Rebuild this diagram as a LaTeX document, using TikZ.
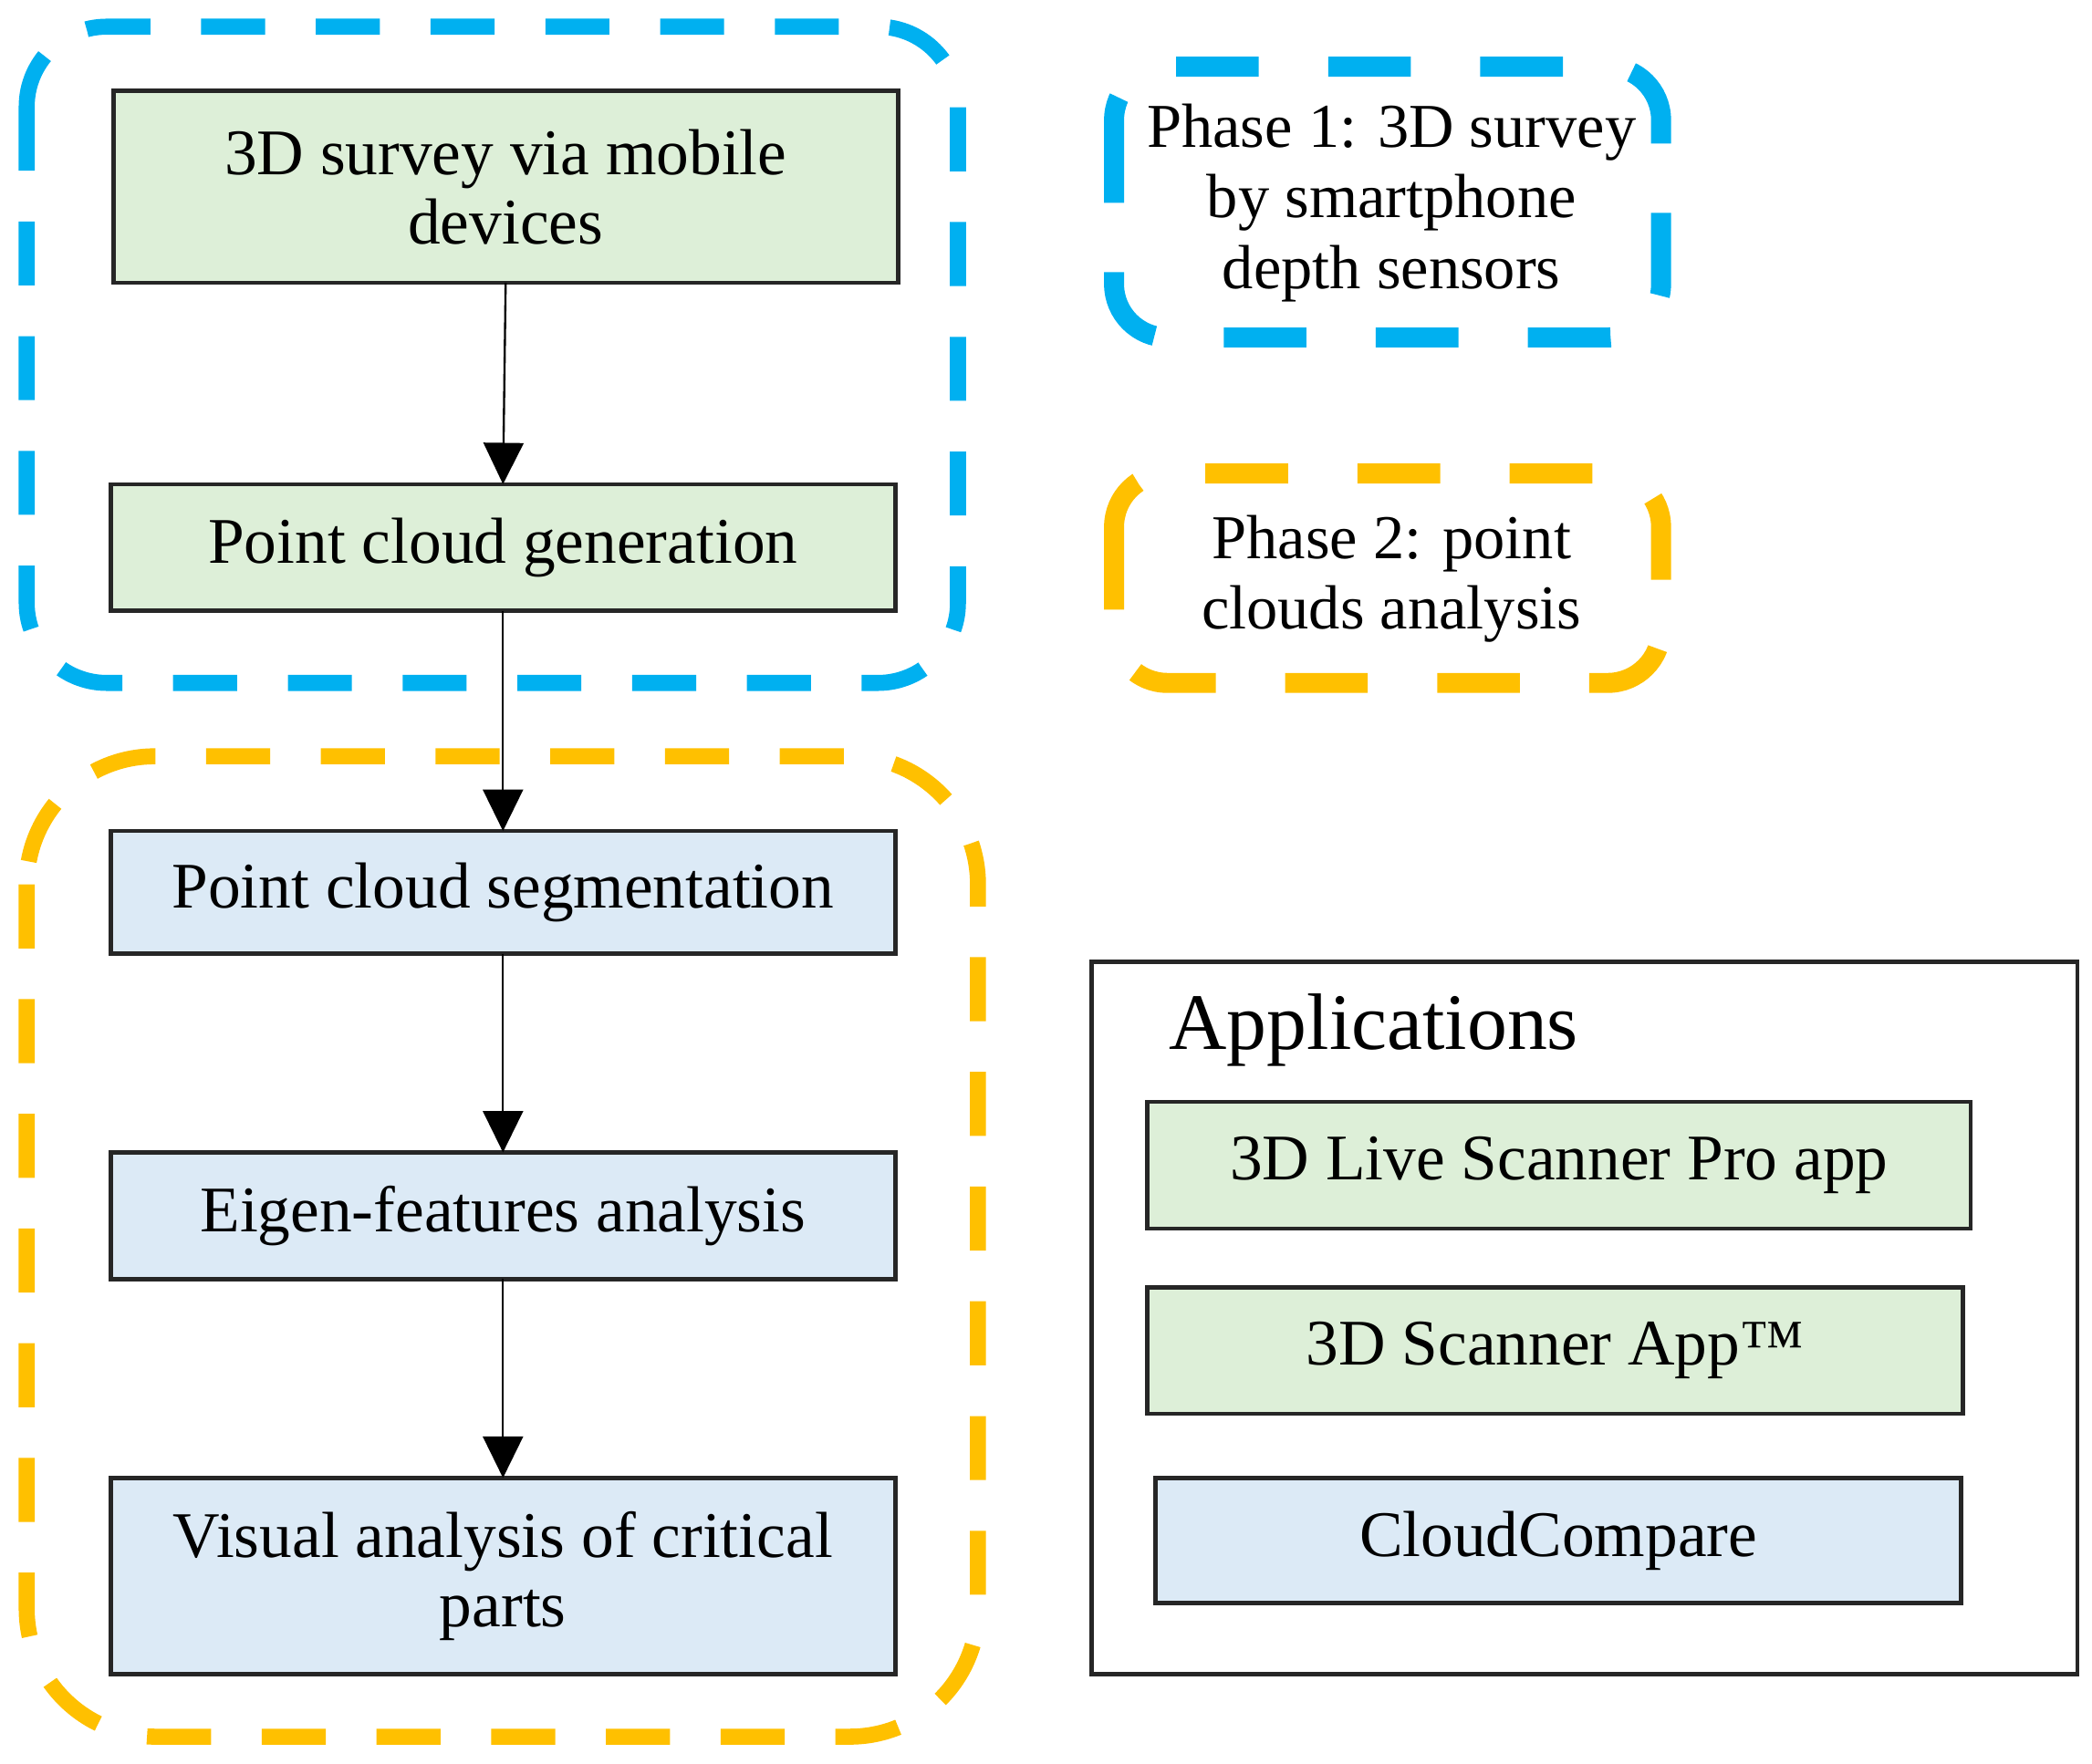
\documentclass[tikz,border=0pt]{standalone}
\usepackage{fontspec}
\setmainfont{Liberation Serif}
\usetikzlibrary{arrows.meta}
\definecolor{grpblue}{HTML}{00B0F0}
\definecolor{grpyellow}{HTML}{FFC000}
\definecolor{fillgreen}{HTML}{DDEFD8}
\definecolor{fillblue}{HTML}{DCEAF6}
\definecolor{edgegray}{HTML}{262626}
\tikzset{
  stepbox/.style={draw=edgegray, line width=1.6pt, inner sep=0pt, outer sep=0pt,
    align=center, font=\fontsize{24.4}{26}\selectfont, text=black},
  greenbox/.style={stepbox, fill=fillgreen},
  bluebox/.style={stepbox, fill=fillblue},
  flow/.style={draw=black, line width=0.8pt, -{Triangle[length=15.5pt,width=15pt]}},
  groupbox/.style={line width=6pt, dash pattern=on 24pt off 19pt},
  phasebox/.style={line width=7.5pt, dash pattern=on 31pt off 26pt},
  phasetext/.style={align=center, font=\fontsize{23.4}{26.5}\selectfont, inner sep=0pt},
}
\begin{document}
\begin{tikzpicture}[x=0.5pt,y=-0.5pt]
\useasboundingbox (0,0) rectangle (1568,1322);
% group frames
\draw[groupbox, draw=grpblue, rounded corners=30pt] (20,20) rectangle (718,512);
\draw[groupbox, draw=grpyellow, rounded corners=48pt] (20,567) rectangle (733,1302);
% flow boxes
\node[greenbox, minimum width=294pt, minimum height=72pt] (b1) at (379,140) {3D survey via mobile\\devices};
\node[greenbox, minimum width=294pt, minimum height=47.5pt] (b2) at (377,410.5) {Point cloud generation};
\node[bluebox, minimum width=294pt, minimum height=46pt] (b3) at (377,669) {Point cloud segmentation};
\node[bluebox, minimum width=294pt, minimum height=47.5pt] (b4) at (377,911.5) {Eigen-features analysis};
\node[bluebox, minimum width=294pt, minimum height=73.5pt] (b5) at (377,1181.5) {Visual analysis of critical\\parts};
\draw[flow] (b1.south) -- (b2.north);
\draw[flow] (b2.south) -- (b3.north);
\draw[flow] (b3.south) -- (b4.north);
\draw[flow] (b4.south) -- (b5.north);
% phase legends
\draw[phasebox, draw=grpblue, rounded corners=20pt] (835,50) rectangle (1245,253);
\node[phasetext] (p1) at (1043,152) {Phase 1: 3D survey\\by smartphone\\depth sensors};
\draw[phasebox, draw=grpyellow, rounded corners=20pt] (835,355) rectangle (1245,512);
\node[phasetext] (p2) at (1043,434) {Phase 2: point\\clouds analysis};
% applications
\node[draw=edgegray, line width=1.6pt, minimum width=369.5pt, minimum height=267pt, inner sep=0pt] (apps) at (1187.5,988) {};
\node[anchor=west, inner sep=0pt, font=\fontsize{30}{32}\selectfont] (appt) at (876,772) {Applications};
\node[greenbox, minimum width=308.5pt, minimum height=47.5pt] (a1) at (1168.5,873.5) {3D Live Scanner Pro app};
\node[greenbox, minimum width=305.5pt, minimum height=47.5pt] (a2) at (1165.5,1012.5) {3D Scanner App™};
\node[bluebox, minimum width=302pt, minimum height=47pt] (a3) at (1168,1155) {CloudCompare};
\end{tikzpicture}
\end{document}
